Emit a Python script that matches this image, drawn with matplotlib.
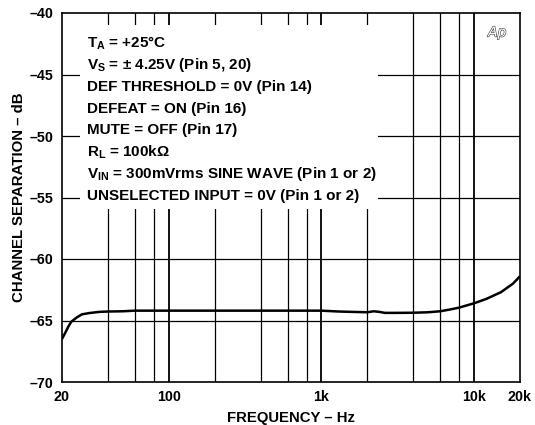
import matplotlib
matplotlib.use("Agg")
import matplotlib.pyplot as plt
import matplotlib.patheffects as pe
from matplotlib.patches import Rectangle
from matplotlib.ticker import FixedLocator, FixedFormatter, NullFormatter

plt.rcParams['font.family'] = ['Liberation Sans', 'DejaVu Sans']
plt.rcParams['font.weight'] = 'bold'
plt.rcParams['mathtext.fontset'] = 'custom'
plt.rcParams['mathtext.rm'] = 'Liberation Sans:bold'
plt.rcParams['mathtext.it'] = 'Liberation Sans:bold'
plt.rcParams['mathtext.bf'] = 'Liberation Sans:bold'

# Data
freq = [20, 21, 22, 23, 25, 27, 30, 35, 40, 50, 60, 80, 100, 200, 400, 700,
        1000, 1300, 1600, 2000, 2200, 2400, 2600, 3000, 4000, 5000, 6000,
        7000, 8000, 10000, 12000, 15000, 18000, 20000]
sep = [-66.5, -66.0, -65.5, -65.1, -64.75, -64.5, -64.4, -64.3, -64.27, -64.25,
       -64.2, -64.2, -64.2, -64.2, -64.2, -64.2,
       -64.2, -64.27, -64.3, -64.33, -64.25, -64.3, -64.38, -64.38, -64.37, -64.33, -64.25,
       -64.1, -63.95, -63.6, -63.25, -62.7, -62.0, -61.4]

major_x = [20, 100, 1000, 10000, 20000]
major_x_labels = ['20', '100', '1k', '10k', '20k']
minor_x = [40, 60, 80, 200, 400, 600, 800, 2000, 4000, 6000, 8000]
y_ticks = [-70, -65, -60, -55, -50, -45, -40]
y_labels = ['\u201370', '\u201365', '\u201360', '\u201355', '\u201350', '\u201345', '\u201340']

notes = [
    r"$T_A$ = +25$\mathregular{\degree}$C",
    r"$V_S$ = $\pm$ 4.25V (Pin 5, 20)",
    "DEF THRESHOLD = 0V (Pin 14)",
    "DEFEAT = ON (Pin 16)",
    "MUTE = OFF (Pin 17)",
    r"$R_L$ = 100k$\Omega$",
    r"$V_{IN}$ = 300mVrms SINE WAVE (Pin 1 or 2)",
    "UNSELECTED INPUT = 0V (Pin 1 or 2)",
]

fig = plt.figure(figsize=(5.35, 4.25), dpi=100)
ax = fig.add_axes([62/535, (425-382)/425, 458/535, 369/425])
ax.set_xscale('log')
ax.set_xlim(20, 20000)
ax.set_ylim(-70, -40)

for f in minor_x:
    ax.axvline(f, color='black', lw=0.9, zorder=1)
for f in [100, 1000, 10000]:
    ax.axvline(f, color='black', lw=1.3, zorder=1)
for yv in [-65, -60, -55, -50, -45]:
    ax.axhline(yv, color='black', lw=0.9, zorder=1)

ax.add_patch(Rectangle((0.039, 0.469), 0.651, 0.498, transform=ax.transAxes,
                       facecolor='white', edgecolor='none', zorder=2))

ax.plot(freq, sep, color='black', lw=1.8, zorder=3, solid_capstyle='butt')

ax.xaxis.set_major_locator(FixedLocator(major_x))
ax.xaxis.set_major_formatter(FixedFormatter(major_x_labels))
ax.xaxis.set_minor_locator(FixedLocator([]))
ax.xaxis.set_minor_formatter(NullFormatter())
ax.set_yticks(y_ticks)
ax.set_yticklabels(y_labels)
ax.tick_params(axis='x', length=0, labelsize=10.3, pad=6)
ax.tick_params(axis='y', length=0, labelsize=10.3, pad=6)
for lab in ax.get_xticklabels() + ax.get_yticklabels():
    lab.set_fontweight('bold')

for s in ax.spines.values():
    s.set_linewidth(1.2)

ax.set_xlabel('FREQUENCY \u2013 Hz', fontsize=10.7, fontweight='bold', labelpad=5)
ax.set_ylabel('CHANNEL SEPARATION \u2013 dB', fontsize=10.8, fontweight='bold', labelpad=3)

y0 = 0.9187
dy = 0.0592
for i, t in enumerate(notes):
    ax.text(0.0546, y0 - i*dy, t, transform=ax.transAxes, fontsize=11,
            fontweight='bold', va='center', ha='left', zorder=4)

ax.text(0.97, 0.947, 'Ap', transform=ax.transAxes, fontsize=10, style='italic',
        fontweight='normal', color='white', ha='right', va='center',
        family='DejaVu Sans', zorder=4,
        path_effects=[pe.Stroke(linewidth=0.8, foreground='#333333'), pe.Normal()])

fig.savefig('out.png', dpi=100)
